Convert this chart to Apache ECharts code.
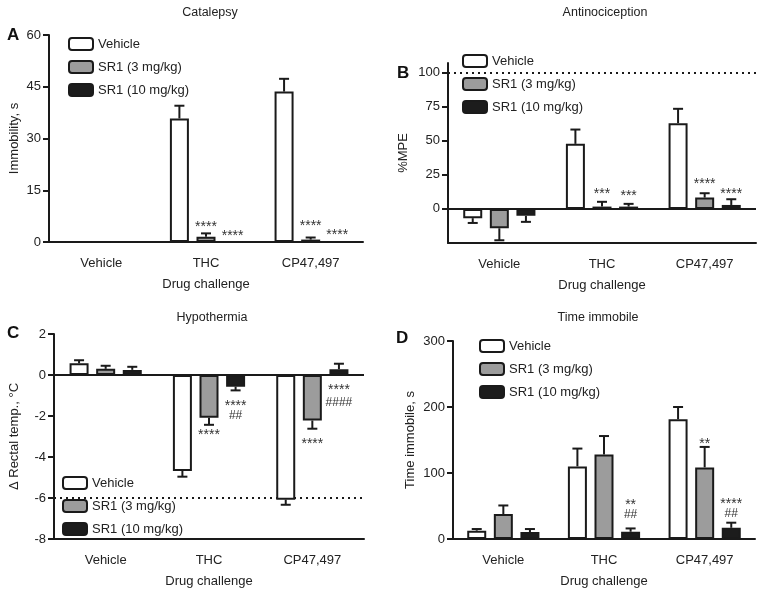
<!DOCTYPE html>
<html><head><meta charset="utf-8">
<script src="https://cdn.jsdelivr.net/npm/echarts@6/dist/echarts.min.js"></script>
<style>html,body{margin:0;padding:0;background:#fff}#c{width:760px;height:590px}</style>
</head><body><div id="c"></div>
<script>
const categories = ['Vehicle', 'THC', 'CP47,497'];
const seriesNames = ['Vehicle', 'SR1 (3 mg/kg)', 'SR1 (10 mg/kg)'];

// Panel A – Catalepsy (Immobility, s)
const A_vehicle = [0, 35.8, 43.6];
const A_vehicle_sem = [0, 3.7, 3.7];
const A_sr3 = [0, 1.5, 0.7];
const A_sr3_sem = [0, 1.0, 0.6];
const A_sr10 = [0, 0, 0];
const A_sr10_sem = [0, 0, 0];
const A_ticks = [0, 15, 30, 45, 60];
const A_notes = [['THC', 1, 5.3, '****'], ['THC', 2, 2.7, '****'], ['CP47,497', 1, 5.4, '****'], ['CP47,497', 2, 2.8, '****']];

// Panel B – Antinociception (%MPE)
const B_vehicle = [-6.8, 47.7, 62.9];
const B_vehicle_sem = [3.5, 10.5, 10.5];
const B_sr3 = [-14.2, 1.7, 8.3];
const B_sr3_sem = [8.8, 3.5, 3.2];
const B_sr10 = [-5.1, 1.7, 2.9];
const B_sr10_sem = [4.4, 2.0, 4.2];
const B_ticks = [0, 25, 50, 75, 100];
const B_notes = [['THC', 1, 13.2, '***'], ['THC', 2, 11.5, '***'], ['CP47,497', 1, 20.5, '****'], ['CP47,497', 2, 13.2, '****']];

// Panel C – Hypothermia (Δ Rectal temp., °C)
const C_vehicle = [0.57, -4.68, -6.08];
const C_vehicle_sem = [0.15, 0.28, 0.25];
const C_sr3 = [0.3, -2.08, -2.22];
const C_sr3_sem = [0.15, 0.35, 0.4];
const C_sr10 = [0.25, -0.57, 0.28];
const C_sr10_sem = [0.15, 0.18, 0.27];
const C_ticks = [-8, -6, -4, -2, 0, 2];
const C_notes = [['THC', 1, -2.81, '****'], ['THC', 2, -1.38, '****'], ['THC', 2, -2.0, '##'], ['CP47,497', 1, -3.21, '****'], ['CP47,497', 2, -0.57, '****'], ['CP47,497', 2, -1.35, '####']];

// Panel D – Time immobile (s)
const D_vehicle = [12.6, 110, 181.5];
const D_vehicle_sem = [2.5, 27, 18.5];
const D_sr3 = [37.8, 128, 108.5];
const D_sr3_sem = [13, 28, 31];
const D_sr10 = [10.6, 11, 17];
const D_sr10_sem = [4.5, 5, 7.7];
const D_ticks = [0, 100, 200, 300];
const D_notes = [['THC', 2, 56.4, '**'], ['THC', 2, 36.3, '##'], ['CP47,497', 1, 148.7, '**'], ['CP47,497', 2, 57.5, '****'], ['CP47,497', 2, 38.9, '##']];

const FONT = '"Liberation Sans", Arial, sans-serif';
const INK = '#1a1a1a';
const fills = ['#ffffff', '#9c9c9c', '#1c1c1c'];
const BAR_W = 19, BAR_GAP = 0.4;
const STEP = BAR_W * (1 + BAR_GAP);

const panels = [
  { vals: [A_vehicle, A_sr3, A_sr10], sems: [A_vehicle_sem, A_sr3_sem, A_sr10_sem], notes: A_notes,
    grid: { left: 49, top: 35, width: 314, height: 207 }, min: 0, max: 60, interval: 15, ticks: A_ticks,
    yName: 'Immobility, s', yGap: 28, zero: false, ref: null },
  { vals: [B_vehicle, B_sr3, B_sr10], sems: [B_vehicle_sem, B_sr3_sem, B_sr10_sem], notes: B_notes,
    grid: { left: 448, top: 63, width: 308, height: 180 }, min: -25, max: 107, interval: 25, ticks: B_ticks,
    yName: '%MPE', yGap: 38, zero: true, ref: 100 },
  { vals: [C_vehicle, C_sr3, C_sr10], sems: [C_vehicle_sem, C_sr3_sem, C_sr10_sem], notes: C_notes,
    grid: { left: 54, top: 334, width: 310, height: 205 }, min: -8, max: 2, interval: 2, ticks: C_ticks,
    yName: 'Δ Rectal temp., °C', yGap: 33, zero: true, ref: -6 },
  { vals: [D_vehicle, D_sr3, D_sr10], sems: [D_vehicle_sem, D_sr3_sem, D_sr10_sem], notes: D_notes,
    grid: { left: 453, top: 341, width: 302, height: 198 }, min: 0, max: 300, interval: 100, ticks: D_ticks,
    yName: 'Time immobile, s', yGap: 36, zero: false, ref: null }
];

const grids = [], xAxes = [], yAxes = [], series = [];
panels.forEach((p, i) => {
  grids.push(Object.assign({ containLabel: false }, p.grid));
  xAxes.push({
    type: 'category', gridIndex: i, data: categories, position: 'bottom',
    axisLine: { onZero: false, lineStyle: { color: INK, width: 2 } },
    axisTick: { alignWithLabel: true, length: 6, lineStyle: { color: INK, width: 2 } },
    axisLabel: { color: '#222', fontSize: 13, fontFamily: FONT, margin: 15 },
    name: 'Drug challenge', nameLocation: 'middle', nameGap: 36,
    nameTextStyle: { color: '#222', fontSize: 13, fontFamily: FONT },
    splitLine: { show: false }
  });
  yAxes.push({
    type: 'value', gridIndex: i, min: p.min, max: p.max, interval: p.interval,
    axisLine: { show: true, lineStyle: { color: INK, width: 2 } },
    axisTick: { show: true, length: 6, lineStyle: { color: INK, width: 2 }, customValues: p.ticks },
    axisLabel: { color: '#222', fontSize: 13, fontFamily: FONT, margin: 8, customValues: p.ticks },
    splitLine: { show: false },
    name: p.yName, nameLocation: 'middle', nameGap: p.yGap, nameRotate: 90,
    nameTextStyle: { color: '#222', fontSize: 13, fontFamily: FONT }
  });
  p.vals.forEach((arr, s) => {
    const bar = {
      type: 'bar', name: seriesNames[s], xAxisIndex: i, yAxisIndex: i,
      data: arr, barWidth: BAR_W, barGap: (BAR_GAP * 100) + '%', z: 3,
      itemStyle: { color: fills[s], borderColor: INK, borderWidth: 2 },
      emphasis: { disabled: true }, animation: false
    };
    if (s === 0) {
      const lines = [];
      if (p.zero) lines.push({ yAxis: 0, lineStyle: { type: 'solid', width: 2, color: INK } });
      if (p.ref !== null) lines.push({ yAxis: p.ref, lineStyle: { type: [2, 4], width: 2, color: INK } });
      if (lines.length) bar.markLine = { silent: true, symbol: 'none', label: { show: false }, data: lines, z: 2 };
    }
    series.push(bar);
  });
  // error bars
  const errData = [];
  p.vals.forEach((arr, s) => arr.forEach((v, c) => {
    const sgn = v < 0 ? -1 : 1;
    errData.push([c, v, v + sgn * p.sems[s][c], s]);
  }));
  series.push({
    type: 'custom', xAxisIndex: i, yAxisIndex: i, data: errData, z: 2, silent: true, animation: false,
    renderItem: (params, api) => {
      const off = (api.value(3) - 1) * STEP;
      const a = api.coord([api.value(0), api.value(1)]);
      const b = api.coord([api.value(0), api.value(2)]);
      const x = a[0] + off;
      if (Math.abs(b[1] - a[1]) < 0.5) return null;
      return { type: 'group', children: [
        { type: 'line', shape: { x1: x, y1: a[1], x2: x, y2: b[1] }, style: { stroke: INK, lineWidth: 2 } },
        { type: 'line', shape: { x1: x - 5, y1: b[1], x2: x + 5, y2: b[1] }, style: { stroke: INK, lineWidth: 2 } }
      ] };
    }
  });
  // significance marks
  const notes = p.notes;
  series.push({
    type: 'custom', xAxisIndex: i, yAxisIndex: i, z: 5, silent: true, animation: false,
    data: notes.map(n => [categories.indexOf(n[0]), n[2], n[1]]),
    renderItem: (params, api) => {
      const pt = api.coord([api.value(0), api.value(1)]);
      const off = (api.value(2) - 1) * STEP;
      const txt = notes[params.dataIndex][3];
      const star = txt.indexOf('*') >= 0;
      return { type: 'text', x: pt[0] + off, y: pt[1] + (star ? 3 : 0),
        style: { text: txt, fill: '#333', fontSize: star ? 14 : 12, fontFamily: FONT, align: 'center', verticalAlign: 'middle' } };
    }
  });
});

const legendBase = (left, top) => ({
  left, top, orient: 'vertical', itemWidth: 24, itemHeight: 12, itemGap: 9, icon: 'roundRect',
  data: seriesNames, selectedMode: false,
  textStyle: { color: '#222', fontSize: 13, fontFamily: FONT }
});

const titleAt = (text, x, y, bold) => ({
  text, left: x, top: y, textAlign: bold ? 'left' : 'center',
  textStyle: bold ? { fontSize: 17, fontWeight: 'bold', fontFamily: FONT, color: '#111' }
                  : { fontSize: 12.5, fontWeight: 'normal', fontFamily: FONT, color: '#222' }
});

const chart = echarts.init(document.getElementById('c'), null, { renderer: 'canvas' });
chart.setOption({
  backgroundColor: '#fff',
  animation: false,
  title: [
    titleAt('Catalepsy', 205, 1), titleAt('Antinociception', 600, 1),
    titleAt('Hypothermia', 207, 306), titleAt('Time immobile', 593, 306),
    titleAt('A', 2, 22, true), titleAt('B', 392, 60, true),
    titleAt('C', 2, 320, true), titleAt('D', 391, 325, true)
  ],
  legend: [legendBase(63, 32), legendBase(457, 49), legendBase(57, 471), legendBase(474, 334)],
  grid: grids, xAxis: xAxes, yAxis: yAxes, series
});
</script></body></html>
